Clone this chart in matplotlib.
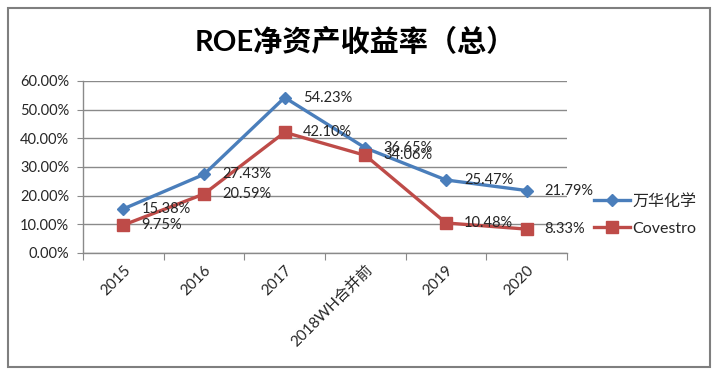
import matplotlib
matplotlib.use('Agg')
import matplotlib.pyplot as plt
from matplotlib.patches import Rectangle
from matplotlib.ticker import FuncFormatter, FixedLocator
import numpy as np

plt.rcParams['font.family'] = ['Lato', 'Noto Sans CJK SC', 'DejaVu Sans']

# 数据
categories = ['2015', '2016', '2017', '2018WH合并前', '2019', '2020']
wanhua = [15.38, 27.43, 54.23, 36.65, 25.47, 21.79]
covestro = [9.75, 20.59, 42.10, 34.06, 10.48, 8.33]
series_names = ['万华化学', 'Covestro']
title = 'ROE净资产收益率（总）'

blue = '#4A7EBB'
red = '#BE4B48'
text_c = '#262626'

fig = plt.figure(figsize=(7.2, 3.77), dpi=100)
ax = fig.add_axes([83/720, 1-253/377, (567-83)/720, (253-81)/377])

x = np.arange(len(categories))
l1, = ax.plot(x, np.array(wanhua)/100, color=blue, lw=2.4, marker='D',
              ms=6.5, mec=blue, mfc=blue, zorder=3)
l2, = ax.plot(x, np.array(covestro)/100, color=red, lw=2.4, marker='s',
              ms=8, mec=red, mfc=red, zorder=3)

# 数据标签
for xs, ys in [(x, wanhua), (x, covestro)]:
    for xi, yi in zip(xs, ys):
        ax.annotate('%.2f%%' % yi, xy=(xi, yi/100), xytext=(13, 0),
                    textcoords='offset points', va='center', ha='left',
                    fontsize=10.5, color=text_c, zorder=4)

ax.set_xlim(-0.5, len(categories) - 0.5)
ax.set_ylim(0, 0.6)
ax.set_yticks(np.arange(0, 0.61, 0.1))
ax.yaxis.set_major_formatter(FuncFormatter(lambda v, p: '%.2f%%' % (v*100)))
ax.grid(axis='y', color='#8a8a8a', lw=1.0)
ax.set_axisbelow(True)

# x轴: 刻度在类别之间
ax.xaxis.set_major_locator(FixedLocator(np.arange(-0.5, len(categories), 1)))
ax.set_xticklabels([])
ax.set_xticks(x, minor=True)
ax.set_xticklabels(categories, minor=True, rotation=45, ha='right',
                   rotation_mode='anchor', fontsize=11, color=text_c)
ax.tick_params(axis='x', which='minor', length=0, pad=7)
ax.tick_params(axis='x', which='major', length=5, color='#8a8a8a', direction='out')
ax.tick_params(axis='y', length=4, color='#8a8a8a', pad=6, labelsize=10.5,
               labelcolor=text_c)

for s in ['top', 'right']:
    ax.spines[s].set_visible(False)
for s in ['left', 'bottom']:
    ax.spines[s].set_color('#8a8a8a')
    ax.spines[s].set_linewidth(1.0)

fig.text(355/720, 1-42/377, title, ha='center', va='center', fontsize=21,
         fontweight='bold', color='black')

fig.legend(handles=[l1, l2], labels=series_names, loc='center left',
           bbox_to_anchor=(580/720, 1-215/377), frameon=False, fontsize=11.5,
           handlelength=2.2, handletextpad=0.2, labelspacing=0.8,
           labelcolor=text_c)

# 外边框
fig.patches.append(Rectangle((8/720, 1-367/377), (710-8)/720, (367-8)/377,
                             transform=fig.transFigure, fill=False,
                             edgecolor='#7f7f7f', lw=1.5))

plt.savefig('out.png', dpi=100)
